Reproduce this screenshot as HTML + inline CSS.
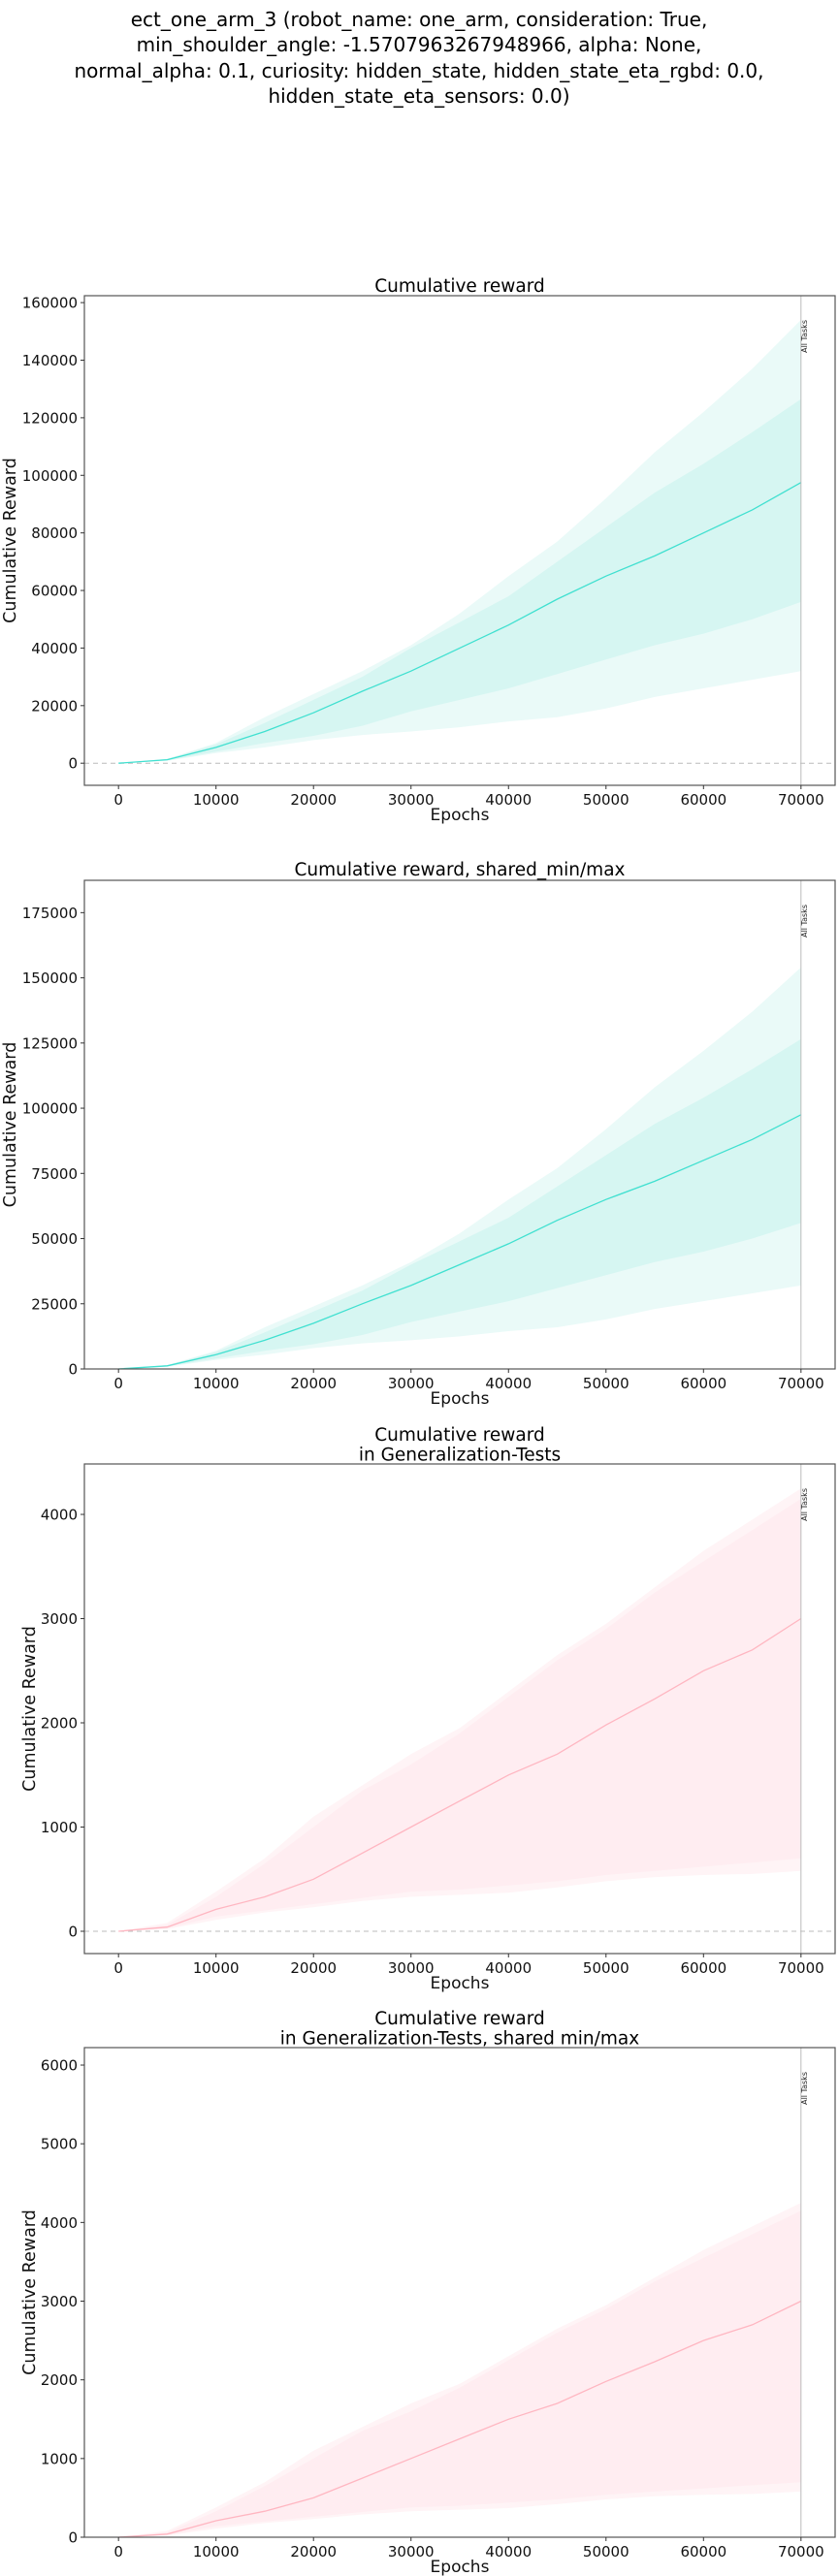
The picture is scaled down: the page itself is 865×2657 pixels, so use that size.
<!DOCTYPE html>
<html><head><meta charset="utf-8">
<style>
html,body{margin:0;padding:0;background:#fff;}
svg{display:block;font-family:"DejaVu Sans","Liberation Sans",sans-serif;}
</style></head>
<body>
<svg id="fig" width="865" height="2657" viewBox="0 0 865 2657" xmlns="http://www.w3.org/2000/svg">
<g font-size="20" text-anchor="middle" fill="#000">
<text x="432" y="27">ect_one_arm_3 (robot_name: one_arm, consideration: True,</text>
<text x="432" y="53">min_shoulder_angle: -1.5707963267948966, alpha: None,</text>
<text x="432" y="80">normal_alpha: 0.1, curiosity: hidden_state, hidden_state_eta_rgbd: 0.0,</text>
<text x="432" y="106">hidden_state_eta_sensors: 0.0)</text>
</g>
</svg>
<script>
// shared x categories (epochs)
const epochs = [0,5000,10000,15000,20000,25000,30000,35000,40000,45000,50000,55000,60000,65000,70000];
const xTicks = [0,10000,20000,30000,40000,50000,60000,70000];
// training cumulative reward
const trainMean = [0,1200,5500,11000,17500,25000,32000,40000,48000,57000,65000,72000,80000,88000,97500];
const trainStdUp = [0,1500,6500,14000,22000,30000,40000,49000,58000,70000,82000,94000,104000,115000,126500];
const trainStdLo = [0,1000,4000,7000,9500,13000,18000,22000,26000,31000,36000,41000,45000,50000,56000];
const trainMax = [0,1500,7000,16000,24000,32000,41000,52000,65000,77000,92000,108000,122000,137000,154000];
const trainMin = [0,800,3500,5500,8000,9800,11000,12500,14500,16000,19000,23000,26000,29000,32000];
// generalization cumulative reward
const genMean = [0,40,210,330,500,750,1000,1250,1500,1700,1980,2230,2500,2700,3000];
const genStdUp = [0,60,330,650,1000,1350,1600,1900,2250,2600,2900,3250,3550,3850,4150];
const genStdLo = [0,30,140,200,260,320,380,400,440,480,540,580,620,660,700];
const genMax = [0,80,380,700,1100,1400,1700,1950,2300,2650,2950,3300,3650,3950,4250];
const genMin = [0,20,110,180,230,290,330,350,370,420,480,520,540,550,580];
// y tick labels per chart
const yTicks1 = [0,20000,40000,60000,80000,100000,120000,140000,160000];
const yTicks2 = [0,25000,50000,75000,100000,125000,150000,175000];
const yTicks3 = [0,1000,2000,3000,4000];
const yTicks4 = [0,1000,2000,3000,4000,5000,6000];

const NS="http://www.w3.org/2000/svg";
const fig=document.getElementById('fig');
function mk(tag,attrs,parent){const e=document.createElementNS(NS,tag);for(const k in attrs)e.setAttribute(k,attrs[k]);(parent||fig).appendChild(e);return e;}

function chart(o){
  const L=87,R=861,T=o.top,B=o.bottom;
  const g=mk('g',{});
  
  
  const xs=v=>L+(v-(-3500))/(77000)*(R-L);
  const ys=v=>B-(v-o.ymin)/(o.ymax-o.ymin)*(B-T);
  function band(up,lo,color,nm){
    let d='M'+epochs.map((e,i)=>xs(e).toFixed(1)+','+ys(up[i]).toFixed(1)).join('L');
    for(let i=epochs.length-1;i>=0;i--)d+='L'+xs(epochs[i]).toFixed(1)+','+ys(lo[i]).toFixed(1);
    const p=mk('path',{d:d+'Z',fill:color,stroke:'none'},g);
    
    
  }
  band(o.max,o.min,o.c1,'min-max-band');
  band(o.up,o.lo,o.c2,'std-band');
  const zl=mk('line',{x1:L,x2:R,y1:ys(0),y2:ys(0),stroke:'#bbb','stroke-dasharray':'5,4','stroke-width':1},g);
  
  
  const ml=mk('path',{d:'M'+epochs.map((e,i)=>xs(e).toFixed(1)+','+ys(o.mean[i]).toFixed(1)).join('L'),fill:'none',stroke:o.lc,'stroke-width':1.3},g);
  
  
  const vl=mk('line',{x1:xs(70000),x2:xs(70000),y1:T,y2:B,stroke:'#bbb','stroke-width':1},g);
  
  
  const at=mk('text',{x:0,y:0,'font-size':8,fill:'#222','text-anchor':'end',transform:`translate(${xs(70000)+6},${T+o.atY}) rotate(-90)`},g);
  at.textContent='All Tasks';
  
  
  const fr=mk('rect',{x:L,y:T,width:R-L,height:B-T,fill:'none',stroke:'#555','stroke-width':1.2},g);
  
  
  o.yt.forEach(v=>{
    const y=ys(v);
    mk('line',{x1:L-4,x2:L,y1:y,y2:y,stroke:'#333'},g);
    const t=mk('text',{x:L-7,y:y+5.5,'font-size':15,'text-anchor':'end',fill:'#111'},g);
    t.textContent=v;
    
    
  });
  xTicks.forEach(v=>{
    const x=xs(v);
    mk('line',{x1:x,x2:x,y1:B,y2:B+4,stroke:'#333'},g);
    const t=mk('text',{x:x,y:B+20,'font-size':15,'text-anchor':'middle',fill:'#111'},g);
    t.textContent=v;
    
    
  });
  const xl=mk('text',{x:(L+R)/2,y:B+36,'font-size':17,'text-anchor':'middle',fill:'#111'},g);
  xl.textContent='Epochs';
  
  
  const yl=mk('text',{x:0,y:0,'font-size':17.5,'text-anchor':'middle',fill:'#111',transform:`translate(${o.ylx},${(T+B)/2}) rotate(-90)`},g);
  yl.textContent='Cumulative Reward';
  
  
  o.title.forEach((s,i)=>{
    const t=mk('text',{x:(L+R)/2,y:o.ty+i*20.5,'font-size':18.5,'text-anchor':'middle',fill:'#000'},g);
    t.textContent=s;
    
    
  });
}
const teal={c1:'#eafaf8',c2:'#d6f6f2',lc:'#40e0d0'};
const pink={c1:'#fff4f6',c2:'#ffedf1',lc:'#ffb6c1'};
chart(Object.assign({name:'chart-cumulative-reward',top:305,bottom:810,ymin:-7680,ymax:162400,yt:yTicks1,mean:trainMean,up:trainStdUp,lo:trainStdLo,max:trainMax,min:trainMin,title:['Cumulative reward'],ty:301,ylx:16,atY:25},teal));
chart(Object.assign({name:'chart-cumulative-reward-shared',top:908,bottom:1412,ymin:0,ymax:187400,yt:yTicks2,mean:trainMean,up:trainStdUp,lo:trainStdLo,max:trainMax,min:trainMin,title:['Cumulative reward, shared_min/max'],ty:903,ylx:16,atY:25},teal));
chart(Object.assign({name:'chart-generalization',top:1510,bottom:2015,ymin:-214,ymax:4484,yt:yTicks3,mean:genMean,up:genStdUp,lo:genStdLo,max:genMax,min:genMin,title:['Cumulative reward','in Generalization-Tests'],ty:1486,ylx:36,atY:25},pink));
chart(Object.assign({name:'chart-generalization-shared',top:2112,bottom:2617,ymin:0,ymax:6222,yt:yTicks4,mean:genMean,up:genStdUp,lo:genStdLo,max:genMax,min:genMin,title:['Cumulative reward','in Generalization-Tests, shared min/max'],ty:2088,ylx:36,atY:25},pink));
</script>
</body></html>
